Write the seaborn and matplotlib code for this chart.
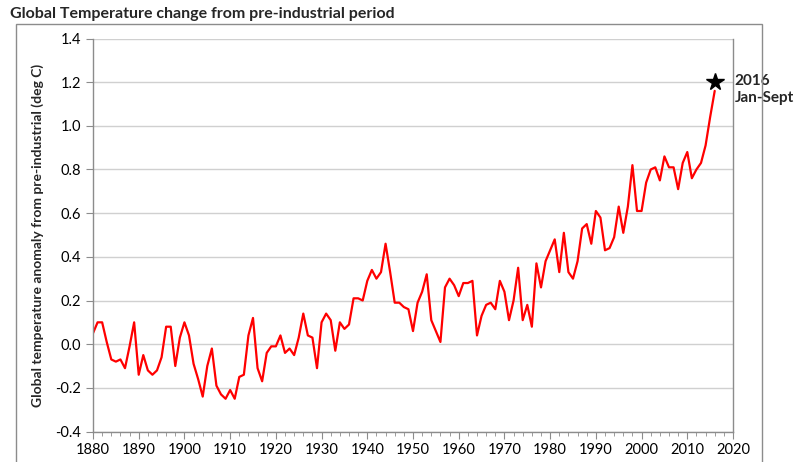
import numpy as np
import pandas as pd
import matplotlib
matplotlib.use("Agg")
import matplotlib.pyplot as plt
import seaborn as sns
from matplotlib.patches import Rectangle
from matplotlib.ticker import MultipleLocator

# annual anomalies (deg C vs pre-industrial)
years = list(range(1880, 2017))
anomaly = [
    0.05, 0.10, 0.10, 0.01, -0.07, -0.08, -0.07, -0.11, -0.01, 0.10,   # 1880s
    -0.14, -0.05, -0.12, -0.14, -0.12, -0.06, 0.08, 0.08, -0.10, 0.03,  # 1890s
    0.10, 0.04, -0.09, -0.16, -0.24, -0.10, -0.02, -0.19, -0.23, -0.25, # 1900s
    -0.21, -0.25, -0.15, -0.14, 0.04, 0.12, -0.11, -0.17, -0.04, -0.01, # 1910s
    -0.01, 0.04, -0.04, -0.02, -0.05, 0.03, 0.14, 0.04, 0.03, -0.11,   # 1920s
    0.10, 0.14, 0.11, -0.03, 0.10, 0.07, 0.09, 0.21, 0.21, 0.20,      # 1930s
    0.29, 0.34, 0.30, 0.33, 0.46, 0.33, 0.19, 0.19, 0.17, 0.16,       # 1940s
    0.06, 0.19, 0.24, 0.32, 0.11, 0.06, 0.01, 0.26, 0.30, 0.27,       # 1950s
    0.22, 0.28, 0.28, 0.29, 0.04, 0.13, 0.18, 0.19, 0.16, 0.29,       # 1960s
    0.24, 0.11, 0.20, 0.35, 0.11, 0.18, 0.08, 0.37, 0.26, 0.38,       # 1970s
    0.43, 0.48, 0.33, 0.51, 0.33, 0.30, 0.38, 0.53, 0.55, 0.46,       # 1980s
    0.61, 0.58, 0.43, 0.44, 0.49, 0.63, 0.51, 0.63, 0.82, 0.61,       # 1990s
    0.61, 0.74, 0.80, 0.81, 0.75, 0.86, 0.81, 0.81, 0.71, 0.83,       # 2000s
    0.88, 0.76, 0.80, 0.83, 0.91, 1.04, 1.16,                         # 2010s
]
star_year = 2016
star_value = 1.20

df = pd.DataFrame({"year": years, "anomaly": anomaly})

sns.set_style("white")
plt.rcParams["font.family"] = ["Lato", "DejaVu Sans"]

fig = plt.figure(figsize=(7.98, 4.62), dpi=100)
ax = fig.add_axes([93 / 798, 1 - 431.5 / 462, 640 / 798, 393 / 462])

sns.lineplot(data=df, x="year", y="anomaly", ax=ax, color="#FF0000", linewidth=1.6)
ax.plot([star_year], [star_value], marker="*", markersize=13, color="black", linestyle="none")

ax.set_xlim(1880, 2020)
ax.set_ylim(-0.4, 1.4)
ax.set_xticks(range(1880, 2021, 10))
ax.xaxis.set_minor_locator(MultipleLocator(2))
ax.set_yticks(np.arange(-0.4, 1.41, 0.2))
ax.set_yticklabels([f"{v:.1f}" for v in np.arange(-0.4, 1.41, 0.2)])
ax.yaxis.grid(True, color="#D0D0D0", linewidth=1)
ax.xaxis.grid(False)
for s in ax.spines.values():
    s.set_color("#8C8C8C")
    s.set_linewidth(1)
ax.spines["top"].set_visible(False)
ax.tick_params(axis="both", which="major", direction="out", length=5, color="#8C8C8C",
               labelsize=10.5, colors="#000000")
ax.tick_params(axis="x", which="minor", direction="out", length=3, color="#8C8C8C")
ax.tick_params(axis="x", which="both", bottom=True)
ax.tick_params(axis="y", left=True)
ax.set_xlabel("")
ax.set_ylabel("Global temperature anomaly from pre-industrial (deg C)", fontsize=10,
              fontweight="bold", labelpad=8)

ax.text(2020.3, 1.165, "2016\nJan-Sept", fontsize=11, fontweight="bold",
        ha="left", va="center", linespacing=1.3, clip_on=False)

fig.text(10 / 798, 1 - 14 / 462, "Global Temperature change from pre-industrial period",
         fontsize=11.5, fontweight="bold", ha="left", va="center")

# outer chart frame
fig.patches.append(Rectangle((16 / 798, -0.05), (762 - 16) / 798, 1 - 24 / 462 + 0.05,
                             transform=fig.transFigure, fill=False,
                             edgecolor="#8C8C8C", linewidth=1))

fig.savefig("out.png", dpi=100)
